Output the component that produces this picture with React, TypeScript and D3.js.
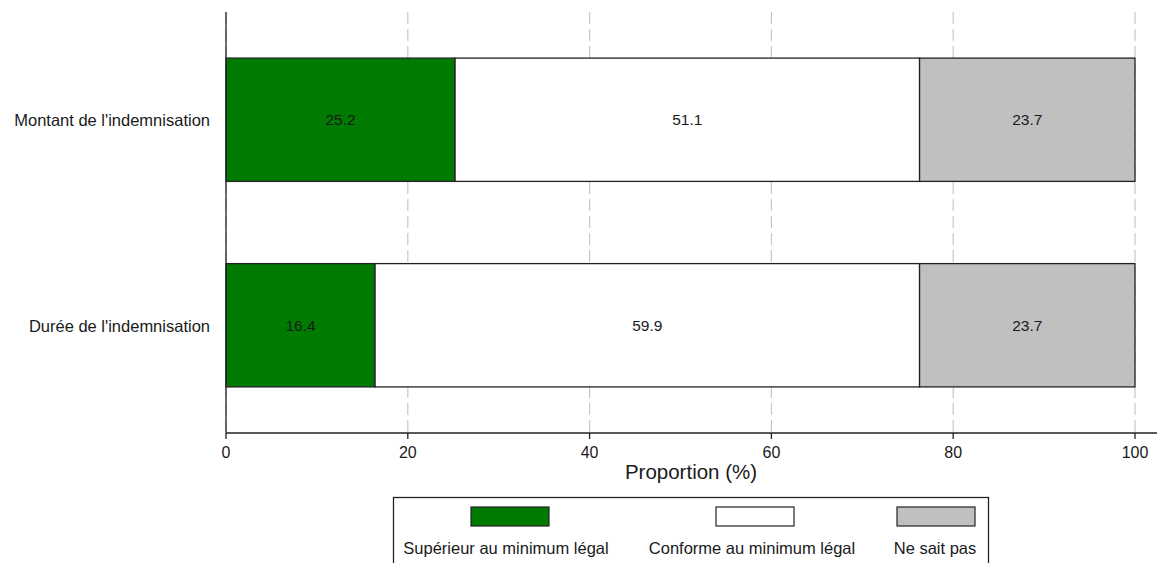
import React from "react";
import * as d3 from "d3";

const categories = ["Montant de l'indemnisation", "Durée de l'indemnisation"];
const seriesNames = ["Supérieur au minimum légal", "Conforme au minimum légal", "Ne sait pas"];
const superieur = [25.2, 16.4];
const conforme = [51.1, 59.9];
const neSaitPas = [23.7, 23.7];
const xTicks = [0, 20, 40, 60, 80, 100];
const colors = ["#007a00", "#ffffff", "#c0c0c0"];

const W = 1158;
const H = 563;
const font = "Liberation Sans, Arial, Helvetica, sans-serif";

export default function App() {
  const x = d3.scaleLinear().domain([0, 100]).range([226, 1135]);
  const y = d3.scaleBand<string>().domain(categories).range([17, 428]).paddingInner(0.4).paddingOuter(0.2);
  const series = [superieur, conforme, neSaitPas];
  const rows = categories.map((c, i) => {
    let acc = 0;
    return series.map((s, k) => {
      const x0 = acc;
      acc += s[i];
      return { cat: c, k, x0, x1: acc, v: s[i] };
    });
  });
  const axisY = 433;
  const legendX = [471, 716, 897];
  const legendLabelX = [506, 752, 935];
  return (
    <svg width={W} height={H} style={{ position: "absolute", left: 0, top: 0, background: "#fff" }} fontFamily={font}>
      <rect x={0} y={0} width={W} height={H} fill="#fff" />
      {xTicks.map((t) => (
        <line key={"g" + t} x1={x(t)} x2={x(t)} y1={12} y2={axisY} stroke="#c8c8c8" strokeWidth={1.2} strokeDasharray="12,5" />
      ))}
      {rows.map((r) =>
        r.map((seg) => (
          <g key={seg.cat + seg.k}>
            <rect
              x={x(seg.x0)}
              y={y(seg.cat)!}
              width={x(seg.x1) - x(seg.x0)}
              height={y.bandwidth()}
              fill={colors[seg.k]}
              stroke="#222"
              strokeWidth={1.3}
            />
            <text
              x={(x(seg.x0) + x(seg.x1)) / 2}
              y={y(seg.cat)! + y.bandwidth() / 2}
              dy="0.35em"
              textAnchor="middle"
              fontSize={15.5}
              fill="#1a1a1a"
            >
              {seg.v.toFixed(1)}
            </text>
          </g>
        ))
      )}
      <line x1={226} x2={226} y1={12} y2={axisY} stroke="#222" strokeWidth={1.3} />
      <line x1={226} x2={1157} y1={axisY} y2={axisY} stroke="#222" strokeWidth={1.3} />
      {xTicks.map((t) => (
        <g key={"t" + t}>
          <line x1={x(t)} x2={x(t)} y1={axisY} y2={axisY + 6} stroke="#222" strokeWidth={1.3} />
          <text x={x(t)} y={458} textAnchor="middle" fontSize={16} fill="#1a1a1a">
            {t}
          </text>
        </g>
      ))}
      {categories.map((c) => (
        <text key={c} x={210} y={y(c)! + y.bandwidth() / 2} dy="0.38em" textAnchor="end" fontSize={16.5} fill="#1a1a1a">
          {c}
        </text>
      ))}
      <text x={691} y={479} textAnchor="middle" fontSize={20.5} fill="#1a1a1a">
        Proportion (%)
      </text>
      <rect x={393.5} y={497.5} width={595} height={80} fill="#fff" stroke="#222" strokeWidth={1.3} />
      {seriesNames.map((n, k) => (
        <g key={n}>
          <rect x={legendX[k]} y={507} width={78} height={19} fill={colors[k]} stroke="#222" strokeWidth={1.2} />
          <text x={legendLabelX[k]} y={554} textAnchor="middle" fontSize={16.5} fill="#1a1a1a">
            {n}
          </text>
        </g>
      ))}
    </svg>
  );
}
